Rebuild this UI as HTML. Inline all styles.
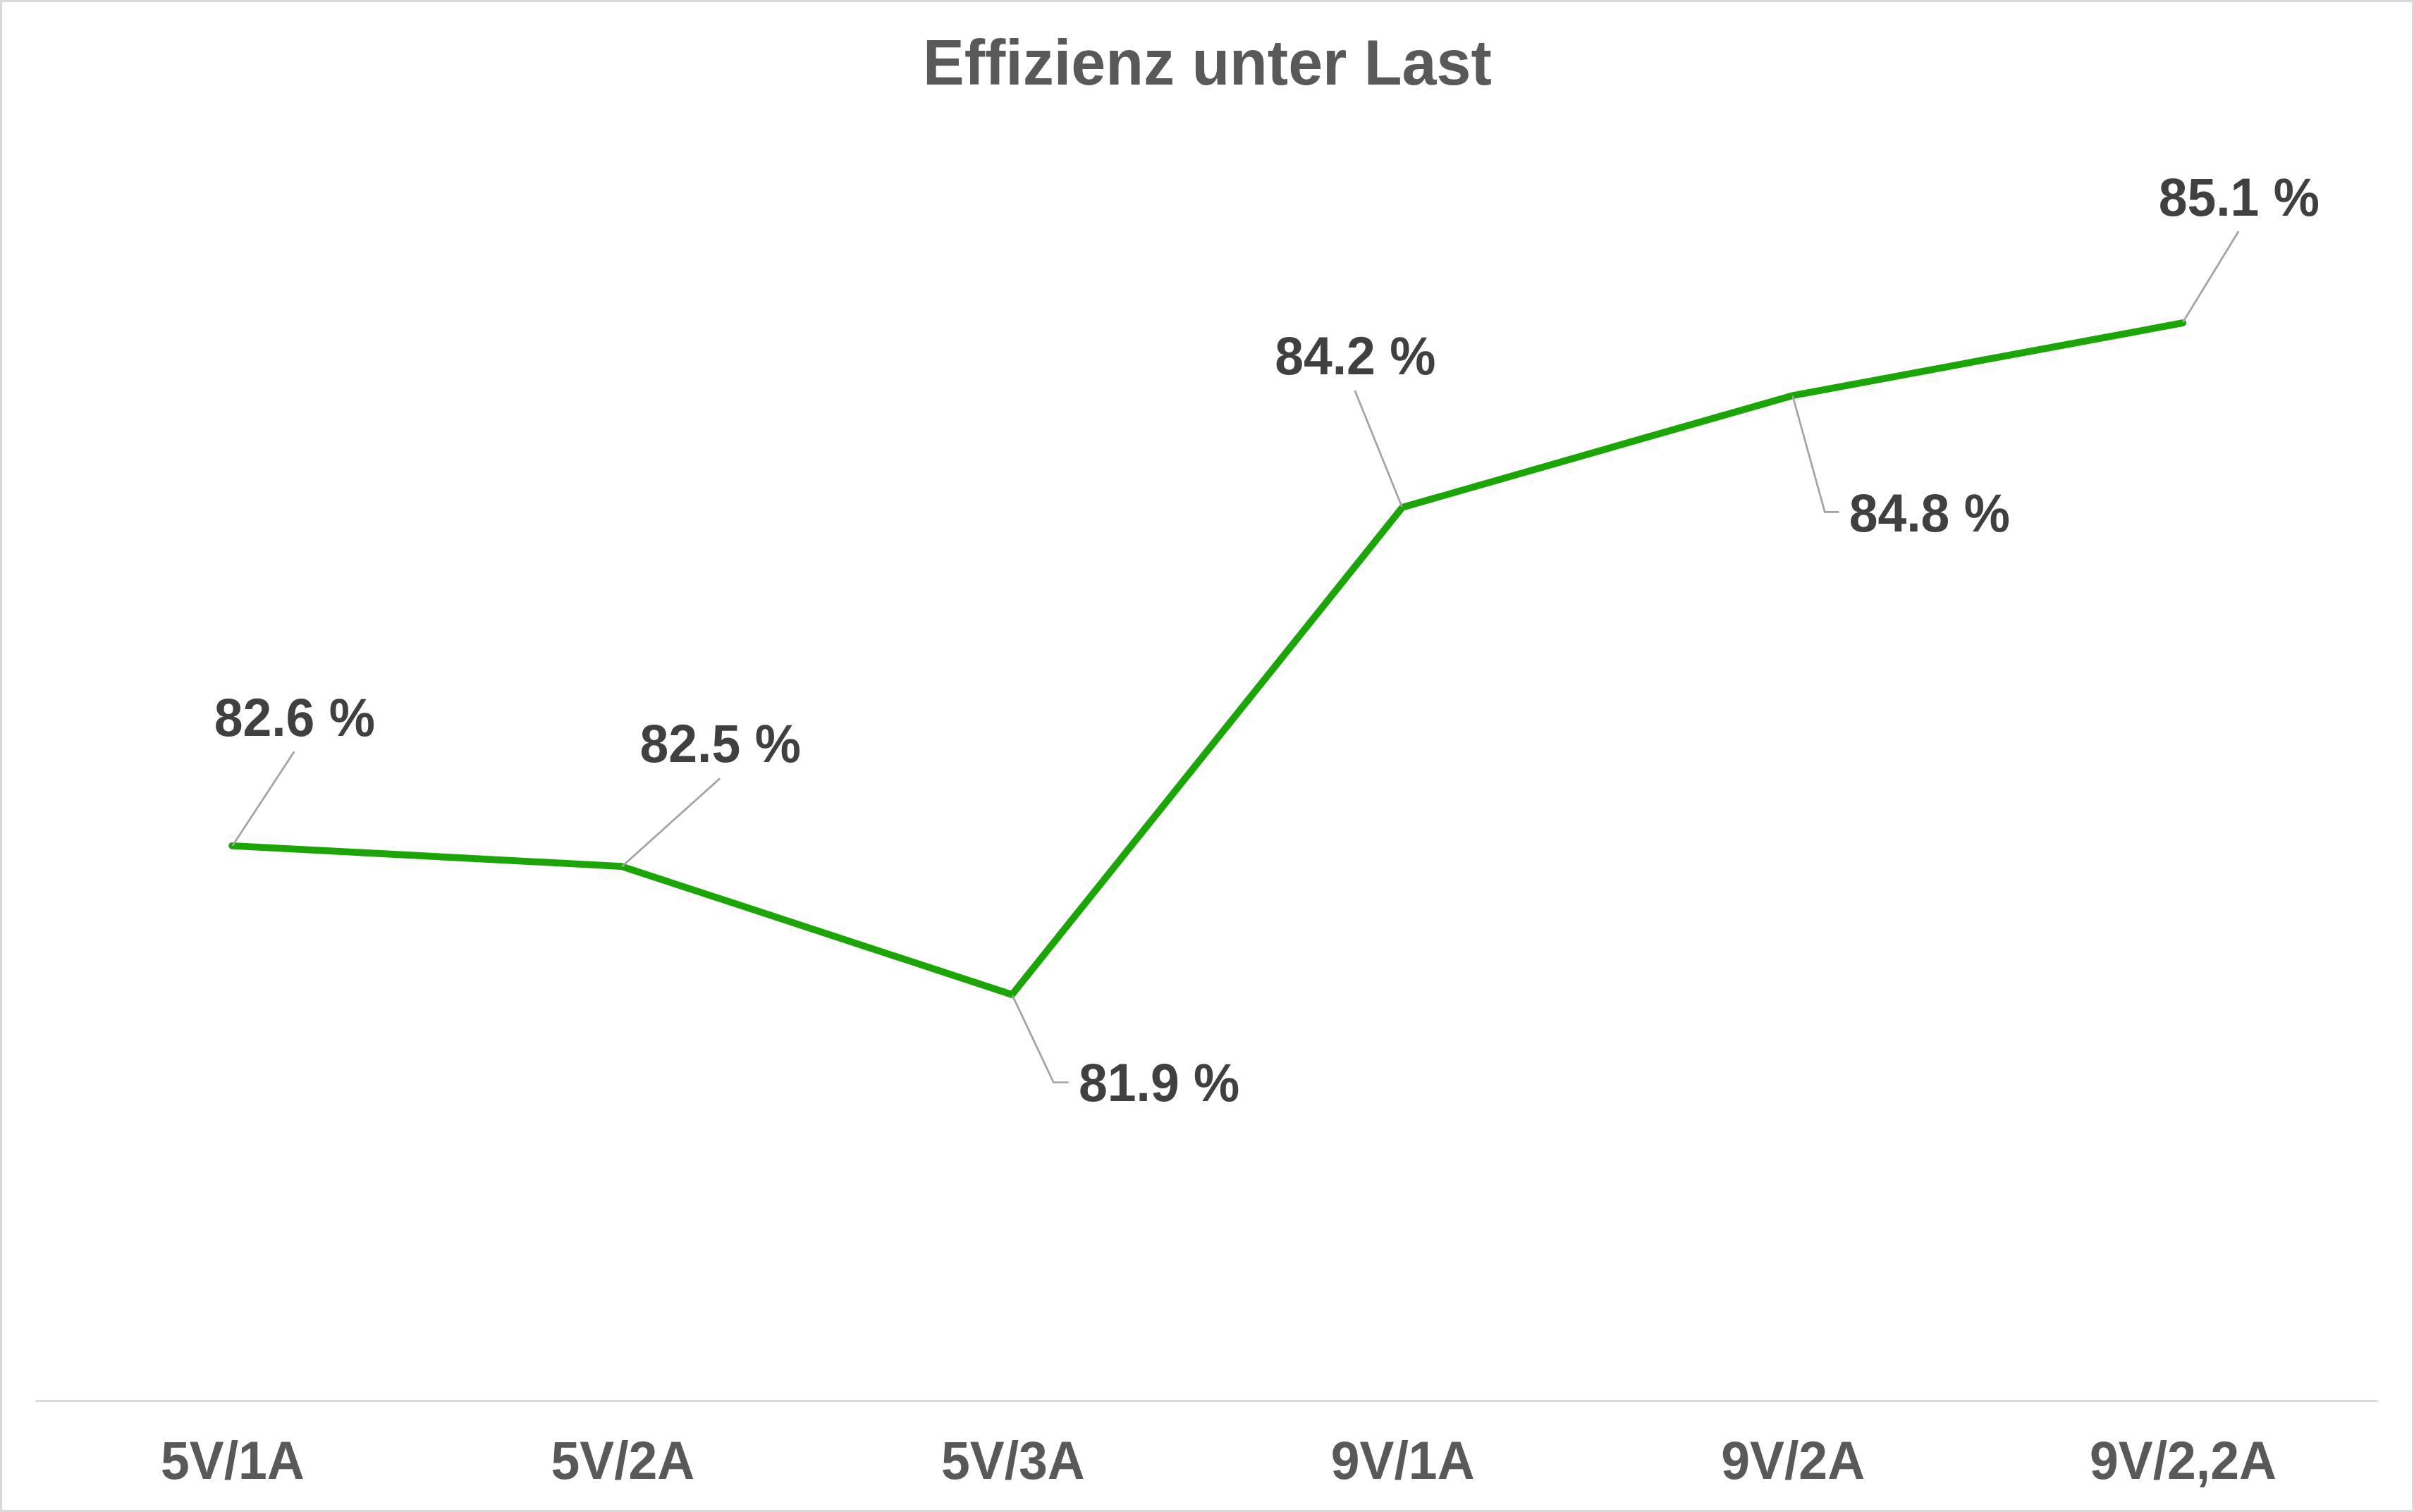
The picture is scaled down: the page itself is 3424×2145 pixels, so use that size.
<!DOCTYPE html>
<html lang="de">
<head>
<meta charset="utf-8">
<title>Effizienz unter Last</title>
<style>
  html, body { margin: 0; padding: 0; background: #ffffff; }
  body { width: 3424px; height: 2145px; overflow: hidden; }
  svg { display: block; }
  text { font-family: "Liberation Sans", Arial, Helvetica, sans-serif; font-weight: 700; text-anchor: middle; }
  .title { font-size: 88px; fill: #595959; }
  .axis  { font-size: 73.33px; fill: #595959; }
  .val   { font-size: 73.33px; fill: #404040; }
  .lead  { fill: none; stroke: #a3a3a3; stroke-width: 2.7; stroke-linecap: butt; stroke-linejoin: miter; }
  .series { fill: none; stroke: #1ca507; stroke-width: 9.8; stroke-linecap: round; stroke-linejoin: miter; }
</style>
</head>
<body>
<svg width="3424" height="2145" viewBox="0 0 3424 2145">
  <!-- chart frame -->
  <rect x="0" y="0" width="3424" height="2145" fill="#ffffff"/>
  <rect x="1.5" y="1.5" width="3421" height="2142" fill="none" stroke="#d9d9d9" stroke-width="3"/>

  <!-- title -->
  <text class="title" transform="translate(1712.4 119.5) scale(1 1.04)">Effizienz unter Last</text>

  <!-- category axis -->
  <rect x="51" y="1986" width="3321.5" height="3" fill="#d9d9d9"/>
  <text class="axis" transform="translate(329.9 2098) scale(1 1.04)">5V/1A</text>
  <text class="axis" transform="translate(883.4 2098) scale(1 1.04)">5V/2A</text>
  <text class="axis" transform="translate(1436.9 2098) scale(1 1.04)">5V/3A</text>
  <text class="axis" transform="translate(1989.7 2098) scale(1 1.04)">9V/1A</text>
  <text class="axis" transform="translate(2543.2 2098) scale(1 1.04)">9V/2A</text>
  <text class="axis" transform="translate(3096.4 2098) scale(1 1.04)">9V/2,2A</text>

  <!-- data series -->
  <polyline class="series" points="329.1,1199.8 881.6,1229 1435.4,1411 1989.1,719.8 2542.4,561.2 3096.1,458.1"/>

  <!-- leader lines -->
  <polyline class="lead" points="329.8,1199.8 417.3,1066.2"/>
  <polyline class="lead" points="882.2,1229.2 1021.2,1104.2"/>
  <polyline class="lead" points="1436,1412.2 1494.3,1535.5 1515.6,1535.5"/>
  <polyline class="lead" points="1988.4,718.8 1921.8,554.2"/>
  <polyline class="lead" points="2542.8,561.8 2588.3,726.4 2608.4,726.4"/>
  <polyline class="lead" points="3096.3,457 3175.3,328"/>

  <!-- data labels -->
  <text class="val" transform="translate(417.8 1043.7) scale(1 1.04)">82.6 %</text>
  <text class="val" transform="translate(1021.7 1081.3) scale(1 1.04)">82.5 %</text>
  <text class="val" transform="translate(1644.1 1561.8) scale(1 1.04)">81.9 %</text>
  <text class="val" transform="translate(1922.3 531) scale(1 1.04)">84.2 %</text>
  <text class="val" transform="translate(2736.8 753.5) scale(1 1.04)">84.8 %</text>
  <text class="val" transform="translate(3175.8 305.8) scale(1 1.04)">85.1 %</text>
</svg>
</body>
</html>
